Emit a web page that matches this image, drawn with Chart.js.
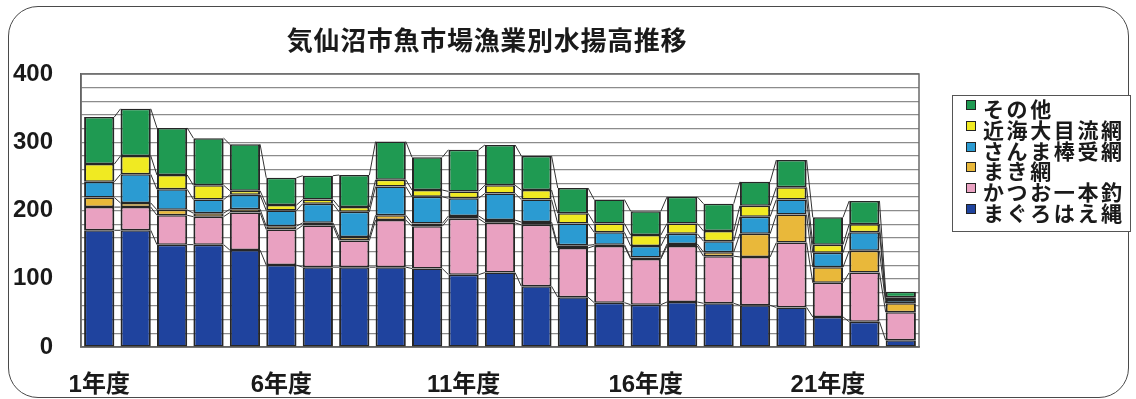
<!DOCTYPE html>
<html><head><meta charset="utf-8">
<script src="https://cdn.jsdelivr.net/npm/chart.js@4.4.1/dist/chart.umd.min.js"></script>
<style>
html,body{margin:0;padding:0;background:#fff;width:1136px;height:399px;overflow:hidden;}
#frame{position:absolute;left:8px;top:6px;width:1121px;height:392px;border:1.5px solid #4a4a4a;border-radius:30px;box-sizing:border-box;}
#wrap{position:absolute;left:0;top:0;width:974px;height:399px;}
#title{position:absolute;left:187px;width:600px;top:22px;text-align:center;font:bold 26px "Noto Sans CJK JP",sans-serif;letter-spacing:0.7px;line-height:34px;color:#1a1a1a;}
#legend{position:absolute;left:952px;top:95px;width:179px;height:137px;border:1.5px solid #555;box-sizing:border-box;background:#fff;}
#items{position:relative;top:-3px;}
.li{height:20.8px;line-height:20.8px;font:bold 21px "Noto Sans CJK JP",sans-serif;letter-spacing:2.6px;color:#1a1a1a;white-space:nowrap;position:relative;padding-left:30px;}
.sw{position:absolute;left:13px;top:7px;width:8px;height:8px;border:1.5px solid #222;}
</style></head>
<body>
<div id="frame"></div>
<div id="wrap"><canvas id="c" width="974" height="399"></canvas></div>
<div id="title"></div>
<div id="legend"><div id="items"></div></div>
<script>
const chartTitle = "気仙沼市魚市場漁業別水揚高推移";
const categories = ["1年度","2年度","3年度","4年度","5年度","6年度","7年度","8年度","9年度","10年度","11年度","12年度","13年度","14年度","15年度","16年度","17年度","18年度","19年度","20年度","21年度","22年度","23年度"];
const seriesNames = ["まぐろはえ縄","かつお一本釣","まき網","さんま棒受網","近海大目流網","その他"];
const maguro  = [171,171,150,150,142,120,117,117,117,115,106,109,89,73,65,62,66,64,61,58,44,37,10];
const katsuo  = [34,34,43,41,55,52,61,39,69,62,82,73,90,72,83,67,82,69,71,95,50,72,41];
const makiami = [14,6,8,5,5,5,4,5,7,4,4,4,4,4,2,2,3,6,34,41,23,32,13];
const sanma   = [23,42,30,20,21,23,28,37,42,39,26,39,33,32,18,17,15,16,25,22,21,27,5];
const kinkai  = [26,27,21,21,6,8,6,7,10,10,10,12,14,15,13,16,15,15,16,18,12,12,4];
const sonota  = [69,69,69,69,68,40,35,47,56,48,61,59,50,37,35,35,39,40,35,40,40,34,8];
const yTicks  = [0,100,200,300,400];
const colors  = ["#1f439e","#e9a1c1","#e9b83a","#2b9bd2","#f0ea22","#1f9a52"];
const values  = [maguro,katsuo,makiami,sanma,kinkai,sonota];

document.getElementById('title').textContent = chartTitle;

const datasets = seriesNames.map((n,i)=>({
  label:n, data:values[i], backgroundColor:colors[i],
  borderColor:"#262626", borderWidth:{top:1.5,bottom:1.5,left:2,right:2}, borderSkipped:false,
  barPercentage:0.83, categoryPercentage:1.0
}));

const seriesLines = {
  id:'seriesLines',
  afterDatasetsDraw(chart){
    const ctx = chart.ctx; ctx.save(); ctx.strokeStyle="#333"; ctx.lineWidth=1;
    chart.data.datasets.forEach((ds,d)=>{
      const els = chart.getDatasetMeta(d).data;
      for(let i=0;i<els.length-1;i++){
        const a=els[i], b=els[i+1];
        ctx.beginPath(); ctx.moveTo(a.x+a.width/2, a.y); ctx.lineTo(b.x-b.width/2, b.y); ctx.stroke();
      }
    });
    ctx.restore();
  }
};
const wallBox = {
  id:'wallBox',
  beforeDatasetsDraw(chart){
    const a=chart.chartArea, ctx=chart.ctx; ctx.save();
    ctx.strokeStyle="#6a6a6a"; ctx.lineWidth=1.5;
    ctx.strokeRect(a.left,a.top,a.right-a.left,a.bottom-a.top); ctx.restore();
  }
};

new Chart(document.getElementById('c'),{
  type:'bar',
  data:{labels:categories, datasets},
  options:{
    responsive:false, animation:false,
    layout:{padding:{left:0,right:55,top:74,bottom:0}},
    plugins:{ legend:{display:false}, tooltip:{enabled:false}, title:{display:false} },
    scales:{
      x:{stacked:true, grid:{display:false,drawTicks:false}, border:{display:true,color:"#555",width:1.5},
        afterFit(s){s.height=52;},
        ticks:{autoSkip:false,maxRotation:0,padding:24,color:"#1a1a1a",
          font:{family:'"Liberation Sans","Noto Sans CJK JP",sans-serif',size:24,weight:'bold'},
          callback:(v,i)=> i%5===0 ? categories[i] : ''}},
      y:{stacked:true,min:0,max:400,
        afterFit(s){s.width=81;},
        grid:{color:"#8c8c8c",lineWidth:1.2,drawTicks:false},
        border:{display:true,color:"#555",width:1.5},
        ticks:{stepSize:20,autoSkip:false,padding:28,color:"#1a1a1a",
          font:{family:'"Liberation Sans",sans-serif',size:24,weight:'bold'},
          callback:(v)=> yTicks.includes(v) ? String(v) : ''}}
    }
  },
  plugins:[wallBox,seriesLines]
});

const lg=document.getElementById('items');
for(let i=seriesNames.length-1;i>=0;i--){
  const d=document.createElement('div'); d.className='li';
  const s=document.createElement('span'); s.className='sw'; s.style.background=colors[i];
  d.appendChild(s); d.appendChild(document.createTextNode(seriesNames[i])); lg.appendChild(d);
}
</script>
</body></html>
